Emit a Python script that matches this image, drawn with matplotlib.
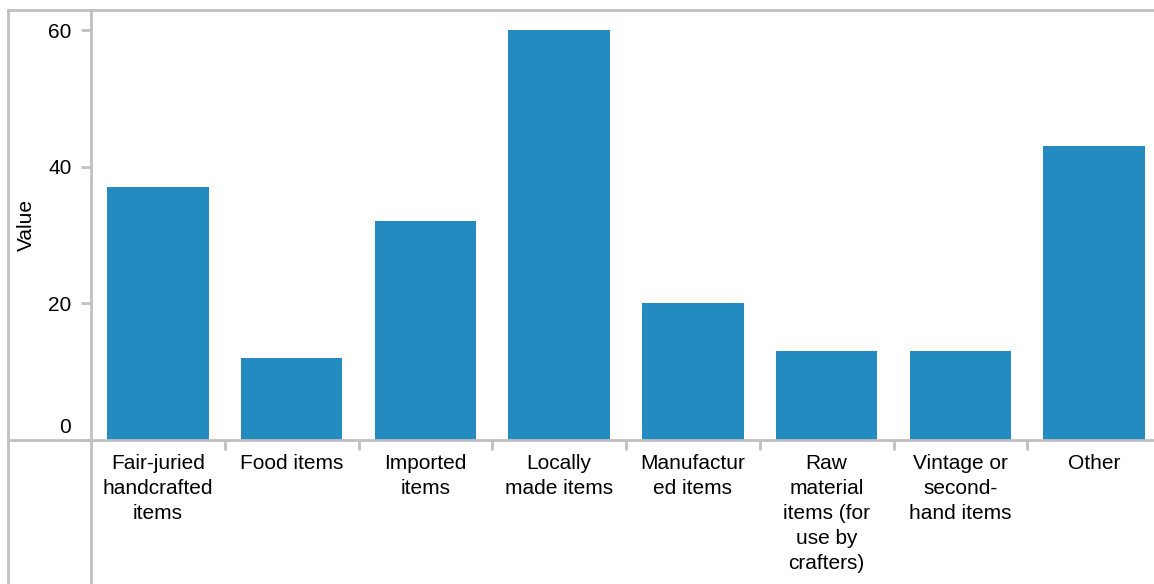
import matplotlib
matplotlib.use("Agg")
import matplotlib.pyplot as plt
from matplotlib.lines import Line2D
from matplotlib.ticker import FixedLocator

categories = ["Fair-juried handcrafted items", "Food items", "Imported items",
              "Locally made items", "Manufactured items",
              "Raw material items (for use by crafters)",
              "Vintage or second-hand items", "Other"]
tick_labels = ["Fair-juried\nhandcrafted\nitems", "Food items", "Imported\nitems",
               "Locally\nmade items", "Manufactur\ned items",
               "Raw\nmaterial\nitems (for\nuse by\ncrafters)",
               "Vintage or\nsecond-\nhand items", "Other"]
values = [37, 12, 32, 60, 20, 13, 13, 43]
y_ticks = [0, 20, 40, 60]

plt.rcParams['font.family'] = ['Liberation Sans', 'DejaVu Sans']
W, H = 1154, 584
fig = plt.figure(figsize=(W / 100, H / 100), dpi=100)

left_px, right_px, top_px, base_px = 91, 1161, 10, 440
ax = fig.add_axes([left_px / W, (H - base_px) / H, (right_px - left_px) / W, (base_px - top_px) / H])

n = len(categories)
x = list(range(n))
ax.bar(x, values, width=0.76, color="#248bc0", zorder=2)
ax.set_xlim(-0.5, n - 0.5)
ymax = 60 * (base_px - top_px) / (base_px - 30)
ax.set_ylim(0, ymax)

for s in ax.spines.values():
    s.set_visible(False)

FS = 15
grey = "#c0c0c0"
ax.set_xticks(x)
ax.set_xticklabels(tick_labels, fontsize=FS, linespacing=1.41, va="top")
ax.tick_params(axis="x", which="major", length=0, pad=10, colors="black")
ax.xaxis.set_minor_locator(FixedLocator([i + 0.5 for i in range(n - 1)]))
ax.tick_params(axis="x", which="minor", length=7, width=2, color=grey)

ax.set_yticks(y_ticks)
ax.set_yticklabels([""] + [str(v) for v in y_ticks[1:]], fontsize=FS)
ax.tick_params(axis="y", length=7, width=2, color=grey, pad=7, labelcolor="black")
# bottom label sits flush above the baseline
ax.annotate(str(y_ticks[0]), xy=(0, y_ticks[0]), xycoords=("axes fraction", "data"),
            xytext=(-14.4, 5), textcoords="offset points",
            ha="right", va="baseline", fontsize=FS)
ax.set_ylabel("Value", fontsize=FS)
ax.yaxis.set_label_coords(-(left_px - 36) / (right_px - left_px), 0.5)

def fline(x0, y0, x1, y1):
    fig.add_artist(Line2D([x0 / W, x1 / W], [1 - y0 / H, 1 - y1 / H],
                          transform=fig.transFigure, color=grey, lw=2, zorder=5))

fline(8, top_px, W, top_px)
fline(8, base_px, W, base_px)
fline(8, top_px, 8, H)
fline(left_px, top_px, left_px, H)

fig.savefig("out.png", dpi=100)
